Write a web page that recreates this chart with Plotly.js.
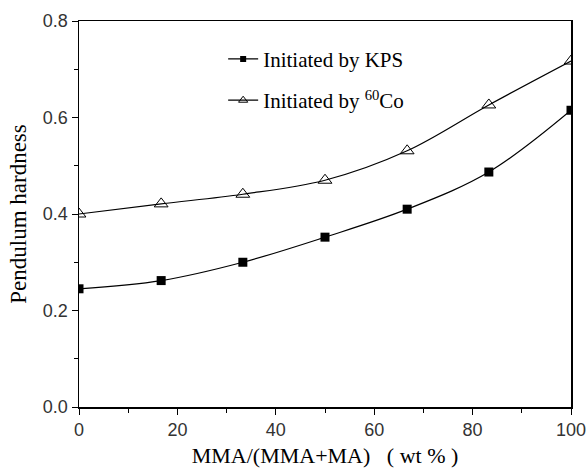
<!DOCTYPE html>
<html><head><meta charset="utf-8">
<script src="https://cdn.plot.ly/plotly-3.0.1.min.js"></script>
<style>body{margin:0;background:#fff}#chart{width:588px;height:472px}</style>
</head><body><div id="chart"></div>
<script>
const ratio = [0, 16.7, 33.3, 50, 66.7, 83.3, 100];
const kps = [0.245, 0.262, 0.300, 0.352, 0.410, 0.487, 0.615];
const co60 = [0.400, 0.421, 0.441, 0.470, 0.531, 0.626, 0.717];
const nameKps = 'Initiated by KPS';
const nameCo = 'Initiated by <sup>60</sup>Co';
const xTitle = 'MMA/(MMA+MA)   ( wt % )';
const yTitle = 'Pendulum hardness';

const serif = '"Liberation Serif", "Times New Roman", serif';
const sans = '"Liberation Sans", Arial, sans-serif';

const lineStyle = {color: '#000', width: 1.2, shape: 'spline'};
const traces = [
  {x: ratio, y: kps, name: nameKps, mode: 'lines+markers', type: 'scatter', showlegend: false,
   line: lineStyle, marker: {symbol: 'square', size: 9, color: '#000'}},
  {x: ratio, y: co60, name: nameCo, mode: 'lines+markers', type: 'scatter', showlegend: false,
   line: lineStyle, marker: {symbol: 'triangle-up-open', size: 12, color: '#000', line: {width: 1}}},
  {x: [null], y: [null], name: nameKps, mode: 'lines+markers', type: 'scatter', legendgroup: 'a',
   line: {color: '#000', width: 1.2}, marker: {symbol: 'square', size: 6, color: '#000'}},
  {x: [null], y: [null], name: nameCo, mode: 'lines+markers', type: 'scatter', legendgroup: 'b',
   line: {color: '#000', width: 1.2}, marker: {symbol: 'triangle-up-open', size: 8, color: '#000', line: {width: 1}}}
];
const axisCommon = {
  showline: true, linecolor: '#000', linewidth: 1.5, mirror: true,
  ticks: 'outside', ticklen: 6, tickcolor: '#000', showgrid: false, zeroline: false,
  tickfont: {family: sans, size: 18, color: '#333'}
};
const layout = {
  width: 588, height: 472,
  margin: {l: 79, r: 17, t: 21, b: 65},
  paper_bgcolor: '#fff', plot_bgcolor: '#fff',
  showlegend: true,
  legend: {x: 0.293, y: 0.954, xanchor: 'left', yanchor: 'top', bgcolor: 'rgba(0,0,0,0)',
    font: {family: serif, size: 21, color: '#000'}, tracegroupgap: 11},
  xaxis: Object.assign({}, axisCommon, {range: [0, 100], dtick: 20,
    minor: {dtick: 10, ticks: 'outside', ticklen: 4, tickcolor: '#000'},
    title: {text: xTitle, standoff: 8, font: {family: serif, size: 22, color: '#000'}}}),
  yaxis: Object.assign({}, axisCommon, {range: [0, 0.8], dtick: 0.2, tickformat: '.1f',
    minor: {dtick: 0.1, ticks: 'outside', ticklen: 4, tickcolor: '#000'},
    title: {text: yTitle, standoff: 10, font: {family: serif, size: 23, color: '#000'}}})
};
Plotly.newPlot('chart', traces, layout, {staticPlot: true});
</script></body></html>
